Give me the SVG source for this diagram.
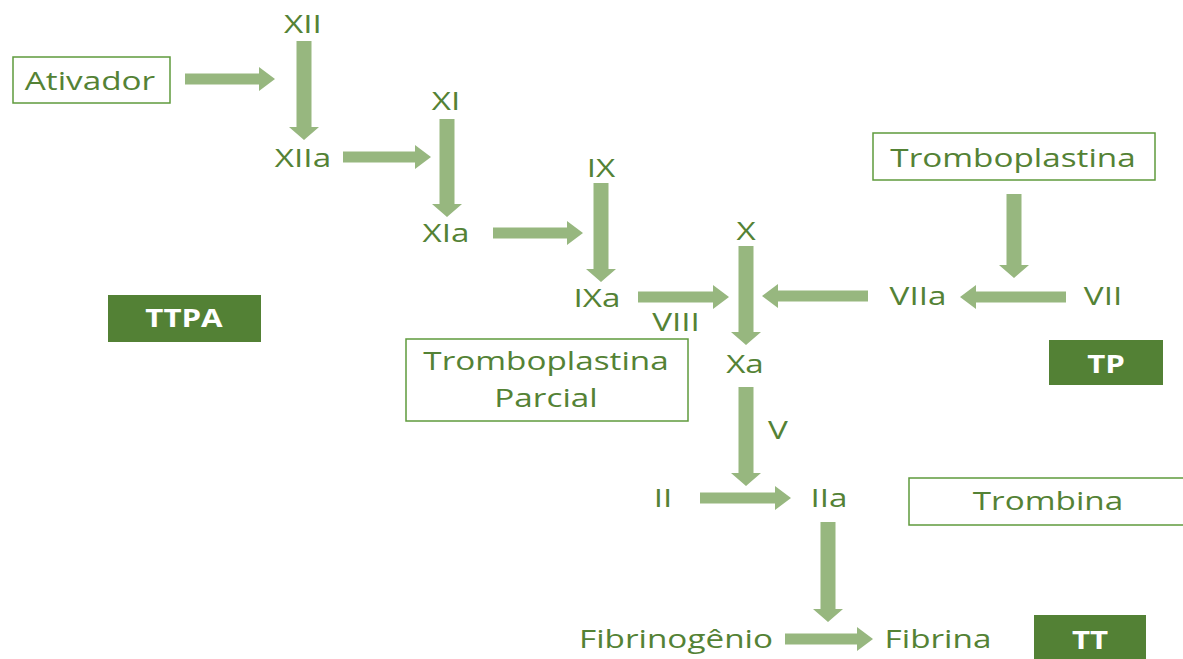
<svg xmlns="http://www.w3.org/2000/svg" width="1183" height="659" viewBox="0 0 1183 659">
<style>
.t{font-family:"Open Sans","Noto Sans",sans-serif;font-size:26px;fill:#548235;text-anchor:middle}
.b{font-family:"Open Sans","Noto Sans",sans-serif;font-size:25px;font-weight:bold;fill:#ffffff;text-anchor:middle}
.box{fill:#ffffff;stroke:#5f9a3c;stroke-width:1.5}
.dark{fill:#538135}
.arr{fill:#97b77f}
</style>
<rect width="1183" height="659" fill="#ffffff"/>
<g id="connectors">
<path class="arr" d="M185,73.5H259V67L275,79L259,91V84.5H185Z"/>
<path class="arr" d="M296.5,41V127H289L304,140L319,127H311.5V41Z"/>
<path class="arr" d="M343,151.5H415V145L431,157L415,169V162.5H343Z"/>
<path class="arr" d="M439.5,119V204H432L447,217L462,204H454.5V119Z"/>
<path class="arr" d="M493,227.5H567V221L583,233L567,245V238.5H493Z"/>
<path class="arr" d="M593.5,183V269H586L601,282L616,269H608.5V183Z"/>
<path class="arr" d="M638,291.5H713V285L729,297L713,309V302.5H638Z"/>
<path class="arr" d="M738.5,246V332H731L746,345L761,332H753.5V246Z"/>
<path class="arr" d="M868,290.5H778V284L762,296L778,308V301.5H868Z"/>
<path class="arr" d="M1066,291.5H976V285L960,297L976,309V302.5H1066Z"/>
<path class="arr" d="M1006.5,194V265H999L1014,278L1029,265H1021.5V194Z"/>
<path class="arr" d="M738.5,387V473H731L746,486L761,473H753.5V387Z"/>
<path class="arr" d="M700,492.5H775V486L791,498L775,510V503.5H700Z"/>
<path class="arr" d="M820.5,522V609H813L828,622L843,609H835.5V522Z"/>
<path class="arr" d="M785,633.5H857V627L873,639L857,651V644.5H785Z"/>
</g>
<g id="ativador"><rect class="box" x="13" y="57" width="157" height="46"/><text class="t" transform="translate(90,90) scale(1.28,1)">Ativador</text></g>
<g id="xii"><text class="t" transform="translate(303,33) scale(1.28,1)">XII</text></g>
<g id="xiia"><text class="t" transform="translate(303,167) scale(1.28,1)">XIIa</text></g>
<g id="xi"><text class="t" transform="translate(446,110) scale(1.28,1)">XI</text></g>
<g id="xia"><text class="t" transform="translate(446,242) scale(1.28,1)">XIa</text></g>
<g id="ix"><text class="t" transform="translate(601,177) scale(1.28,1)">IX</text></g>
<g id="ixa"><text class="t" transform="translate(597,307) scale(1.28,1)">IXa</text></g>
<g id="viii"><text class="t" transform="translate(676,331) scale(1.28,1)">VIII</text></g>
<g id="x"><text class="t" transform="translate(746,240) scale(1.28,1)">X</text></g>
<g id="xa"><text class="t" transform="translate(745,373) scale(1.28,1)">Xa</text></g>
<g id="viia"><text class="t" transform="translate(918,305) scale(1.28,1)">VIIa</text></g>
<g id="vii"><text class="t" transform="translate(1103,305) scale(1.28,1)">VII</text></g>
<g id="tromboplastina"><rect class="box" x="873" y="133" width="282" height="47"/><text class="t" transform="translate(1013,167) scale(1.28,1)">Tromboplastina</text></g>
<g id="tp"><rect class="dark" x="1049" y="340" width="114" height="45"/><text class="b" transform="translate(1106,373) scale(1.25,1)">TP</text></g>
<g id="ttpa"><rect class="dark" x="108" y="295" width="153" height="47"/><text class="b" transform="translate(184,327) scale(1.25,1)">TTPA</text></g>
<g id="tromboplastina-parcial"><rect class="box" x="406" y="339" width="282" height="82"/><text class="t" transform="translate(546,370) scale(1.28,1)">Tromboplastina</text><text class="t" transform="translate(546,407) scale(1.28,1)">Parcial</text></g>
<g id="v"><text class="t" transform="translate(778,439) scale(1.28,1)">V</text></g>
<g id="ii"><text class="t" transform="translate(663,507) scale(1.28,1)">II</text></g>
<g id="iia"><text class="t" transform="translate(829,507) scale(1.28,1)">IIa</text></g>
<g id="trombina"><rect class="box" x="909" y="478" width="290" height="47"/><text class="t" transform="translate(1048,510) scale(1.28,1)">Trombina</text></g>
<g id="fibrinogenio"><text class="t" transform="translate(676,648) scale(1.28,1)">Fibrinogênio</text></g>
<g id="fibrina"><text class="t" transform="translate(938,648) scale(1.28,1)">Fibrina</text></g>
<g id="tt"><rect class="dark" x="1034" y="615" width="112" height="50"/><text class="b" transform="translate(1090,649) scale(1.25,1)">TT</text></g>
</svg>
